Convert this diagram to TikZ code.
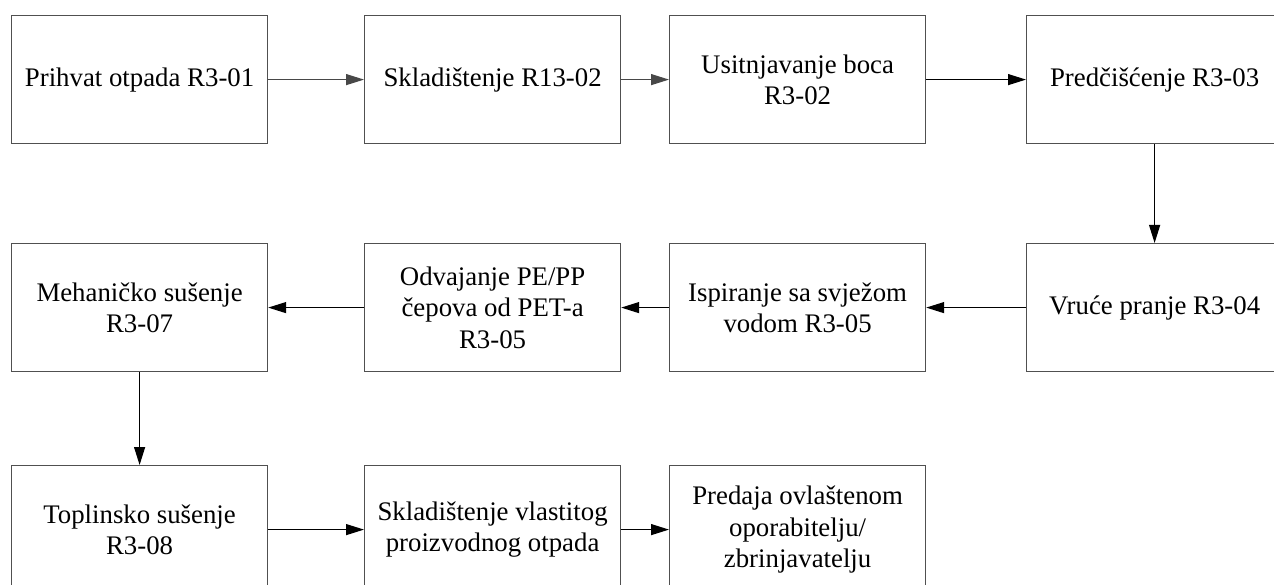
\documentclass[tikz,border=0pt]{standalone}
\usepackage{fontspec}
\setmainfont{Liberation Serif}
\usetikzlibrary{arrows.meta}
\definecolor{boxgray}{HTML}{505050}
\definecolor{arrgray}{HTML}{484848}
\begin{document}
\begin{tikzpicture}[x=1pt,y=-1pt,
  proc/.style={draw=boxgray, line width=1.2pt, minimum width=256pt, minimum height=128pt,
    inner sep=0pt, align=center, anchor=north west, font=\fontsize{26.8}{31.5}\selectfont},
  flow/.style={-{Triangle[length=18pt,width=11pt]}, line width=1.2pt, draw=black},
  flowgray/.style={flow, draw=arrgray}]
\useasboundingbox (0,0) rectangle (1274,585);
\clip (0,0) rectangle (1274,585);
\fill[white] (0,0) rectangle (1274,585);
% row 1
\node[proc] (a1) at (11,15) {Prihvat otpada R3-01};
\node[proc] (a2) at (364,15) {Skladištenje R13-02};
\node[proc] (a3) at (669,15) {Usitnjavanje boca\\R3-02};
\node[proc] (a4) at (1026,15) {Predčišćenje R3-03};
% row 2
\node[proc] (b1) at (11,243) {Mehaničko sušenje\\R3-07};
\node[proc] (b2) at (364,243) {Odvajanje PE/PP\\čepova od PET-a\\R3-05};
\node[proc] (b3) at (669,243) {Ispiranje sa svježom\\vodom R3-05};
\node[proc] (b4) at (1026,243) {Vruće pranje R3-04};
% row 3
\node[proc] (c1) at (11,465) {Toplinsko sušenje\\R3-08};
\node[proc] (c2) at (364,465) {Skladištenje vlastitog\\proizvodnog otpada};
\node[proc] (c3) at (669,465) {Predaja ovlaštenom\\oporabitelju/\\zbrinjavatelju};
% connectors
\draw[flowgray] (a1.east) -- (a2.west);
\draw[flowgray] (a2.east) -- (a3.west);
\draw[flow] (a3.east) -- (a4.west);
\draw[flow] (a4.south) -- (b4.north);
\draw[flow] (b4.west) -- (b3.east);
\draw[flow] (b3.west) -- (b2.east);
\draw[flow] (b2.west) -- (b1.east);
\draw[flow] (b1.south) -- (c1.north);
\draw[flow] (c1.east) -- (c2.west);
\draw[flow] (c2.east) -- (c3.west);
\end{tikzpicture}
\end{document}
